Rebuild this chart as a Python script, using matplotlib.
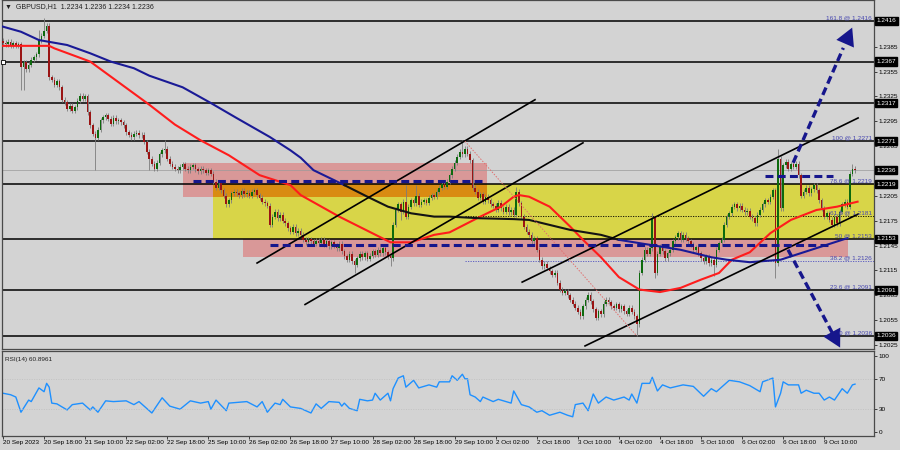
import numpy as np
import matplotlib
matplotlib.use('Agg')
import matplotlib.pyplot as plt
from matplotlib.patches import Rectangle
from matplotlib.transforms import blended_transform_factory

plt.rcParams['font.family'] = ['Liberation Sans', 'DejaVu Sans']

# ---- GBPUSD H1 closes, bar 0 = 20 Sep 2023 02:00 ----
closes = [
    1.2390, 1.2388, 1.2391, 1.2387, 1.2389, 1.2386, 1.2388, 1.2361, 1.2366, 1.2358,   # 0
    1.2363, 1.2369, 1.2372, 1.2376, 1.2393, 1.2398, 1.2404, 1.2410, 1.2348, 1.2345,   # 10
    1.2339, 1.2343, 1.2336, 1.2321, 1.2318, 1.2310, 1.2314, 1.2308, 1.2312, 1.2320,   # 20
    1.2326, 1.2322, 1.2325, 1.2306, 1.2290, 1.2280, 1.2275, 1.2285, 1.2296, 1.2300,   # 30
    1.2302, 1.2298, 1.2292, 1.2299, 1.2295, 1.2296, 1.2294, 1.2290, 1.2282, 1.2279,   # 40
    1.2276, 1.2280, 1.2281, 1.2278, 1.2279, 1.2270, 1.2258, 1.2250, 1.2244, 1.2238,   # 50
    1.2245, 1.2255, 1.2260, 1.2262, 1.2250, 1.2244, 1.2240, 1.2238, 1.2236, 1.2240,   # 60
    1.2243, 1.2238, 1.2236, 1.2240, 1.2242, 1.2237, 1.2235, 1.2238, 1.2236, 1.2233,   # 70
    1.2236, 1.2232, 1.2222, 1.2215, 1.2220, 1.2212, 1.2205, 1.2195, 1.2200, 1.2208,   # 80
    1.2210, 1.2208, 1.2206, 1.2211, 1.2207, 1.2209, 1.2205, 1.2210, 1.2212, 1.2206,   # 90
    1.2203, 1.2198, 1.2196, 1.2193, 1.2170, 1.2180, 1.2186, 1.2178, 1.2182, 1.2175,   # 100
    1.2172, 1.2166, 1.2162, 1.2168, 1.2160, 1.2163, 1.2158, 1.2152, 1.2149, 1.2153,   # 110
    1.2150, 1.2147, 1.2151, 1.2148, 1.2152, 1.2146, 1.2150, 1.2144, 1.2149, 1.2145,   # 120
    1.2142, 1.2147, 1.2138, 1.2132, 1.2128, 1.2135, 1.2126, 1.2122, 1.2130, 1.2135,   # 130
    1.2131, 1.2136, 1.2129, 1.2133, 1.2138, 1.2134, 1.2140, 1.2136, 1.2142, 1.2137,   # 140
    1.2132, 1.2130, 1.2170, 1.2188, 1.2195, 1.2186, 1.2198, 1.2180, 1.2192, 1.2200,   # 150
    1.2196, 1.2205, 1.2194, 1.2198, 1.2200, 1.2197, 1.2203, 1.2206, 1.2204, 1.2210,   # 160
    1.2215, 1.2219, 1.2216, 1.2222, 1.2230, 1.2238, 1.2245, 1.2252, 1.2258, 1.2255,   # 170
    1.2262, 1.2256, 1.2248, 1.2215, 1.2210, 1.2203, 1.2207, 1.2198, 1.2204, 1.2200,   # 180
    1.2195, 1.2193, 1.2188, 1.2197, 1.2190, 1.2186, 1.2192, 1.2185, 1.2188, 1.2182,   # 190
    1.2210, 1.2196, 1.2180, 1.2168, 1.2162, 1.2158, 1.2150, 1.2154, 1.2140, 1.2128,   # 200
    1.2120, 1.2123, 1.2118, 1.2114, 1.2110, 1.2112, 1.2100, 1.2092, 1.2088, 1.2090,   # 210
    1.2085, 1.2080, 1.2075, 1.2070, 1.2065, 1.2060, 1.2072, 1.2080, 1.2086, 1.2078,   # 220
    1.2068, 1.2058, 1.2066, 1.2062, 1.2075, 1.2080, 1.2077, 1.2072, 1.2070, 1.2074,   # 230
    1.2068, 1.2072, 1.2066, 1.2063, 1.2070, 1.2065, 1.2060, 1.2050, 1.2112, 1.2128,   # 240
    1.2140, 1.2135, 1.2142, 1.2178, 1.2112, 1.2135, 1.2144, 1.2138, 1.2130, 1.2136,   # 250
    1.2140, 1.2150, 1.2155, 1.2160, 1.2152, 1.2158, 1.2154, 1.2150, 1.2146, 1.2140,   # 260
    1.2143, 1.2136, 1.2130, 1.2126, 1.2132, 1.2124, 1.2128, 1.2122, 1.2140, 1.2148,   # 270
    1.2152, 1.2170, 1.2180, 1.2184, 1.2192, 1.2195, 1.2190, 1.2193, 1.2188, 1.2185,   # 280
    1.2187, 1.2180, 1.2178, 1.2172, 1.2182, 1.2188, 1.2195, 1.2200, 1.2198, 1.2204,   # 290
    1.2212, 1.2124, 1.2250, 1.2190, 1.2242, 1.2246, 1.2238, 1.2243, 1.2240, 1.2244,   # 300
    1.2230, 1.2205, 1.2210, 1.2215, 1.2208, 1.2213, 1.2218, 1.2212, 1.2200, 1.2190,   # 310
    1.2180, 1.2184, 1.2176, 1.2170, 1.2180, 1.2172, 1.2186, 1.2195, 1.2198, 1.2192,   # 320
    1.2232, 1.2238, 1.2236,                                                           # 330
]
first_open = 1.2392
high_spikes = {14: 1.2405, 16: 1.2420, 63: 1.2272, 157: 1.2218, 161: 1.2218, 179: 1.2272,
               200: 1.2216, 253: 1.2184, 302: 1.2262, 331: 1.2244}
low_spikes = {7: 1.2333, 8: 1.2333, 36: 1.2236, 57: 1.2236, 137: 1.2112, 151: 1.2120,
              155: 1.2176, 247: 1.2036, 254: 1.2106, 277: 1.2108, 301: 1.2106}

# moving averages as (bar, price)
red_ma_bars = [-1, 18, 20, 34, 57, 67, 77, 88, 100, 112, 116, 131, 151, 159, 168, 174, 186,
               194, 199, 201, 205, 213, 221, 226, 230, 233, 240, 248, 256, 264, 272, 279,
               284, 291, 299, 307, 317, 325, 333]
red_ma_vals = [1.2386, 1.2386, 1.2383, 1.2367, 1.2315, 1.2291, 1.2272, 1.2254, 1.2230, 1.2218,
               1.2206, 1.2180, 1.2149, 1.2149, 1.2158, 1.2161, 1.2180, 1.2192, 1.2204, 1.2206,
               1.2204, 1.2192, 1.2168, 1.2152, 1.2140, 1.2131, 1.2107, 1.2092, 1.2089, 1.2094,
               1.2104, 1.2112, 1.2128, 1.2137, 1.2160, 1.2176, 1.2188, 1.2192, 1.2198]
blue_ma_bars = [-1, 7, 14, 25, 34, 42, 51, 57, 70, 81, 91, 104, 112, 116, 121, 129, 133]
blue_ma_vals = [1.2410, 1.2403, 1.2393, 1.2387, 1.2377, 1.2367, 1.2359, 1.2350, 1.2336, 1.2317,
                1.2299, 1.2276, 1.2260, 1.2251, 1.2236, 1.2224, 1.2218]
black_ma_bars = [133, 142, 150, 159, 168, 174, 186, 199, 205, 213, 221, 229, 233, 240]
black_ma_vals = [1.2218, 1.2204, 1.2192, 1.2184, 1.2180, 1.2180, 1.2178, 1.2177, 1.2176, 1.2170,
                 1.2164, 1.2160, 1.2158, 1.2152]
blue2_ma_bars = [240, 252, 264, 276, 282, 291, 303, 311, 329]
blue2_ma_vals = [1.2152, 1.2146, 1.2140, 1.2131, 1.2128, 1.2125, 1.2128, 1.2136, 1.2154]

# RSI(14) as (bar, value)
rsi_bars = [0, 3, 5, 7, 10, 11, 14, 16, 17, 18, 19, 21, 25, 27, 31, 34, 35, 37, 40, 43, 48, 51,
            53, 58, 62, 65, 69, 73, 77, 80, 81, 83, 87, 88, 95, 99, 101, 103, 106, 108, 109,
            112, 116, 120, 122, 124, 127, 131, 132, 133, 135, 138, 139, 142, 144, 145, 147,
            150, 151, 152, 154, 156, 157, 160, 162, 166, 169, 170, 174, 175, 177, 179, 180,
            181, 182, 184, 186, 187, 191, 193, 198, 199, 202, 205, 208, 210, 213, 217, 220,
            222, 223, 226, 228, 230, 232, 235, 238, 242, 244, 245, 247, 249, 252, 253, 255,
            257, 260, 265, 269, 273, 276, 278, 283, 287, 291, 295, 296, 300, 301, 303, 304,
            306, 310, 311, 313, 316, 318, 320, 322, 324, 327, 329, 331, 332]
rsi_vals = [51, 49, 46, 26, 42, 40, 58, 53, 64, 59, 38, 37, 29, 36, 38, 29, 33, 26, 41, 40, 41,
            36, 40, 25, 45, 34, 30, 41, 38, 40, 30, 42, 28, 38, 40, 33, 40, 26, 38, 36, 43, 33,
            31, 25, 37, 31, 40, 39, 34, 38, 31, 28, 43, 41, 42, 51, 42, 51, 41, 57, 71, 74, 59,
            68, 58, 62, 59, 66, 66, 74, 68, 76, 70, 70, 49, 46, 40, 46, 40, 43, 38, 54, 36, 33,
            26, 28, 22, 26, 22, 20, 36, 38, 28, 50, 38, 46, 42, 46, 42, 50, 38, 64, 64, 72, 54,
            62, 58, 62, 60, 47, 57, 53, 68, 66, 61, 53, 66, 71, 33, 51, 66, 62, 62, 51, 55, 51,
            51, 42, 46, 42, 57, 51, 62, 63]

level_lines = [1.2416, 1.2367, 1.2317, 1.2271, 1.2219, 1.2153, 1.2091, 1.2036]
price_boxes = [1.2416, 1.2367, 1.2317, 1.2271, 1.2236, 1.2219, 1.2153, 1.2091, 1.2036]
# 1.2235 sits under the current-price box, so it is not shown
axis_ticks = [1.2385, 1.2355, 1.2325, 1.2295, 1.2265, 1.2205, 1.2175, 1.2145,
              1.2115, 1.2085, 1.2055, 1.2025]
fib_prices = [1.2416, 1.2271, 1.2219, 1.2181, 1.2153, 1.2126, 1.2091, 1.2036]
fib_labels = ['161.8 @ 1.2416', '100 @ 1.2271', '78.6 @ 1.2219', '61.8 @ 1.2181',
              '50 @ 1.2153', '38.2 @ 1.2126', '23.6 @ 1.2091', '0 @ 1.2036']
time_labels = ['20 Sep 2023', '20 Sep 18:00', '21 Sep 10:00', '22 Sep 02:00', '22 Sep 18:00',
               '25 Sep 10:00', '26 Sep 02:00', '26 Sep 18:00', '27 Sep 10:00', '28 Sep 02:00',
               '28 Sep 18:00', '29 Sep 10:00', '2 Oct 02:00', '2 Oct 18:00', '3 Oct 10:00',
               '4 Oct 02:00', '4 Oct 18:00', '5 Oct 10:00', '6 Oct 02:00', '6 Oct 18:00',
               '9 Oct 10:00']

BG = '#d3d3d3'
NAVY = '#16168c'
FS = 4.6

fig = plt.figure(figsize=(9, 4.5), dpi=100, facecolor=BG)
ax = fig.add_axes([2 / 900, 1 - 349 / 450, 872 / 900, 349 / 450], facecolor=BG)
rx = fig.add_axes([2 / 900, 1 - 436 / 450, 872 / 900, 85 / 450], facecolor=BG)
XMIN, XMAX = -0.39, 339.4
ax.set_xlim(XMIN, XMAX)
ax.set_ylim(1.20203, 1.24413)
rx.set_xlim(XMIN, XMAX)
rx.set_ylim(-5.3, 106.6)

# zones
ax.add_patch(Rectangle((70.1, 1.2204), 118.5, 0.0041, fc='#d99898', ec='none', zorder=1))
ax.add_patch(Rectangle((81.8, 1.2153), XMAX - 81.8, 0.0066, fc='#d8d548', ec='none', zorder=1))
ax.add_patch(Rectangle((81.8, 1.2204), 106.8, 0.0015, fc='#d98b12', ec='none', zorder=1.1))
ax.add_patch(Rectangle((93.5, 1.2131), 235.8, 0.0022, fc='#d99898', ec='none', zorder=1))

for lv in level_lines:
    ax.axhline(lv, color='black', lw=1.1, zorder=2)
ax.axhline(1.2236, color='#9a9a9a', lw=0.5, zorder=2)
ax.plot([180, XMAX], [1.2181, 1.2181], color='black', lw=0.6, ls=(0, (1.5, 1.5)), zorder=2)
ax.plot([180, XMAX], [1.2126, 1.2126], color='#5050c0', lw=0.6, ls=(0, (1.5, 1.5)), zorder=2)
ax.plot([-0.1], [1.2367], marker='s', ms=2.5, mfc='white', mec='black', mew=0.6, zorder=6,
        clip_on=False)

# candles
x = np.arange(len(closes))
c = np.array(closes)
o = np.concatenate([[first_open], c[:-1]])
hi = np.maximum(o, c) + 0.0003
lo = np.minimum(o, c) - 0.0003
for k, v in high_spikes.items():
    hi[k] = v
for k, v in low_spikes.items():
    lo[k] = v
ax.vlines(x, lo, hi, color='#7c7c7c', lw=0.6, zorder=3)
body = np.where(np.abs(c - o) < 0.00004, 0.00004, c - o)
cols = np.where(c >= o, '#0d6a0d', '#9a1414')
ax.bar(x, body, bottom=o, width=0.62, color=cols, edgecolor='none', zorder=3.1)

# moving averages
ax.plot(red_ma_bars, red_ma_vals, color='#ff1c1c', lw=1.5, zorder=4)
ax.plot(blue_ma_bars, blue_ma_vals, color='#1a1a96', lw=1.5, zorder=4)
ax.plot(black_ma_bars, black_ma_vals, color='#141414', lw=1.5, zorder=4)
ax.plot(blue2_ma_bars, blue2_ma_vals, color='#1a1a96', lw=1.5, zorder=4)

# channels and fib trend
for (x0, y0, x1, y1) in [(99.0, 1.2124, 207.3, 1.2321), (117.7, 1.2074, 226.0, 1.2269),
                         (202.3, 1.2101, 333.2, 1.2299), (226.8, 1.2024, 333.2, 1.2183)]:
    ax.plot([x0, x1], [y0, y1], color='black', lw=1.2, zorder=5)
ax.plot([180, 247], [1.2271, 1.2036], color='#e07070', lw=0.7, ls=(0, (1.5, 1.5)), zorder=5)

# blue dashed levels
for (x0, x1, y) in [(74.0, 186.7, 1.2223), (104.0, 322.0, 1.2146), (297.0, 323.5, 1.2229)]:
    ax.plot([x0, x1], [y, y], color=NAVY, lw=2.2, dashes=(2.6, 1.4), zorder=5)

# projection arrows
for (x0, y0, x1, y1) in [(307.9, 1.2245, 330.9, 1.2408), (305.9, 1.2140, 326.2, 1.2022)]:
    xm, ym = x0 + 0.85 * (x1 - x0), y0 + 0.85 * (y1 - y0)
    ax.plot([x0, xm], [y0, ym], color=NAVY, lw=2.4, dashes=(2.4, 1.3), zorder=5,
            solid_capstyle='butt')
    ax.annotate('', xy=(x1, y1), xytext=(xm, ym), zorder=6, annotation_clip=False,
                arrowprops=dict(arrowstyle='-|>,head_length=0.55,head_width=0.3',
                                mutation_scale=23, color=NAVY, lw=0, shrinkA=0, shrinkB=0))

# fib labels
for p, t in zip(fib_prices, fib_labels):
    ax.text(338.6, p + 0.0001, t, color='#4848b0', fontsize=FS, ha='right', va='bottom',
            zorder=7)

# right price scale
ax.yaxis.tick_right()
ax.set_yticks(axis_ticks)
ax.set_yticklabels(['%.4f' % t for t in axis_ticks])
ax.tick_params(axis='y', labelsize=FS, length=2, width=0.5, pad=1.5, colors='black')
ax.set_xticks([])
trans = blended_transform_factory(ax.transAxes, ax.transData)
for p in price_boxes:
    ax.text(1.0025, p, '%.4f' % p, transform=trans, color='white', fontsize=FS, ha='left',
            va='center', zorder=8, clip_on=False,
            bbox=dict(boxstyle='square,pad=0.25', fc='black', ec='black'))

ax.text(0.004, 0.992, '\u25bc  GBPUSD,H1  1.2234 1.2236 1.2234 1.2236', transform=ax.transAxes,
        fontsize=5, va='top', ha='left', color='#202020', zorder=8)

# RSI panel
rx.plot(rsi_bars, rsi_vals, color='#1e90ff', lw=1.0)
for lv in (70, 30):
    rx.axhline(lv, color='#bdbdbd', lw=0.5, ls=(0, (1.5, 2)))
rx.yaxis.tick_right()
rx.set_yticks([0, 30, 70, 100])
rx.set_yticklabels(['0', '30', '70', '100'])
rx.tick_params(axis='y', labelsize=FS, length=2, width=0.5, pad=1.5)
rx.set_xticks(np.arange(len(time_labels)) * 16)
rx.set_xticklabels(time_labels)
rx.tick_params(axis='x', labelsize=FS, length=2, width=0.5, pad=1.0)
for lbl in rx.get_xticklabels():
    lbl.set_horizontalalignment('left')
rx.text(0.004, 0.93, 'RSI(14) 60.8961', transform=rx.transAxes, fontsize=FS, va='top',
        ha='left', color='#202020')

for a in (ax, rx):
    for s in a.spines.values():
        s.set_color('#4a4a4a')
        s.set_linewidth(0.9)

fig.savefig('out.png', dpi=100, facecolor=BG)
